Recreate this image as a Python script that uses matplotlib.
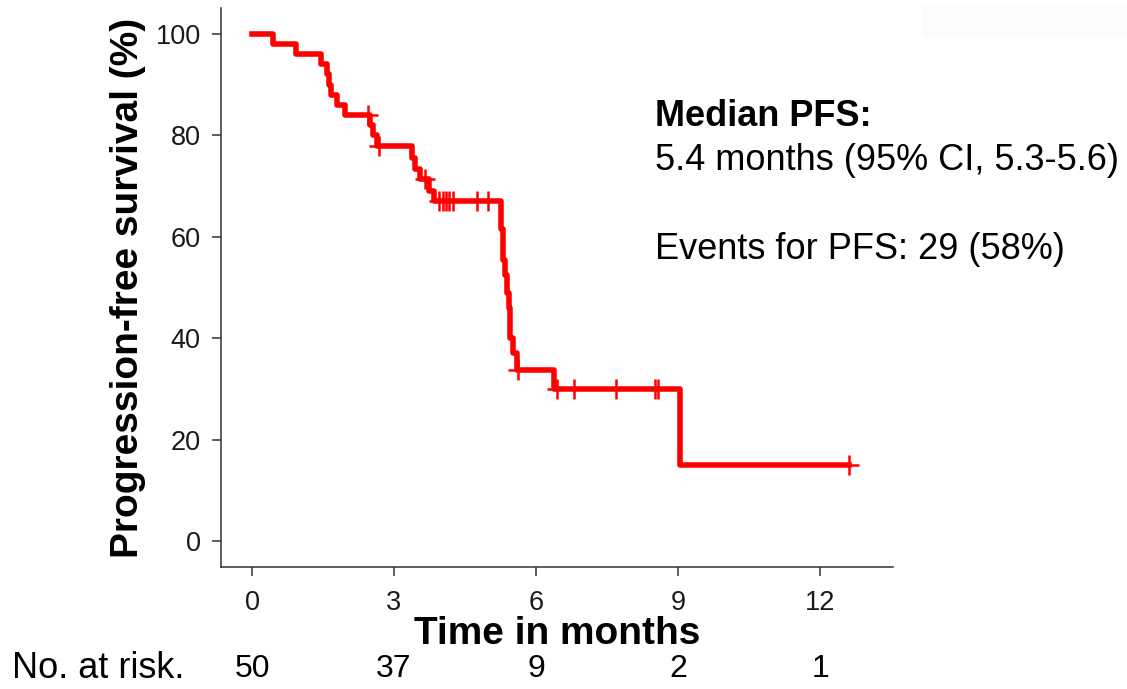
import matplotlib
matplotlib.use('Agg')
import matplotlib.pyplot as plt
import matplotlib.transforms as mtransforms
from matplotlib.patches import Rectangle

plt.rcParams['font.family'] = ['Liberation Sans', 'DejaVu Sans']

# Kaplan-Meier steps (months, % progression-free)
step_times = [0, 0.44, 0.93, 1.45, 1.58, 1.62, 1.66, 1.79, 1.97, 2.49, 2.56, 2.63,
              3.37, 3.44, 3.55, 3.74, 3.84, 5.27, 5.31, 5.35, 5.38, 5.42, 5.45,
              5.52, 5.59, 6.37, 9.04, 12.62]
step_surv = [100, 98, 96, 94, 92, 90, 88, 86, 84, 82, 80, 77.8,
             75.6, 73.4, 71.3, 69.1, 67.0, 61.5, 55.5, 52.5, 49.0, 46.0, 40.0,
             37.0, 33.7, 30.0, 15.0, 15.0]

# censoring marks
cens_times = [2.45, 2.68, 3.65, 3.96, 4.03, 4.10, 4.17, 4.25, 4.75, 4.99,
              5.62, 6.45, 6.80, 7.68, 8.51, 8.58, 12.62]
cens_surv = [84, 77.8, 71.3, 67.0, 67.0, 67.0, 67.0, 67.0, 67.0, 67.0,
             33.7, 30.0, 30.0, 30.0, 30.0, 30.0, 15.0]

risk_times = [0, 3, 6, 9, 12]
risk_counts = [50, 37, 9, 2, 1]

fig = plt.figure(figsize=(11.27, 6.89), dpi=100)
ax = fig.add_axes([221 / 1127, 122 / 689, 672 / 1127, 559 / 689])

ax.step(step_times, step_surv, where='post', color='#ff0000', lw=4)
ax.plot(cens_times, cens_surv, ls='none', marker='+', color='#ff0000',
        markersize=14, markeredgewidth=1.8)

ax.set_xlim(-0.655, 13.54)
ax.set_ylim(-5.1, 105.1)
ax.set_xticks(risk_times)
ax.set_yticks([0, 20, 40, 60, 80, 100])
for side in ['top', 'right']:
    ax.spines[side].set_visible(False)
for side in ['left', 'bottom']:
    ax.spines[side].set_color('#333333')
    ax.spines[side].set_linewidth(1.1)
ax.tick_params(length=6.5, width=1.1, color='#333333', labelsize=19.5,
               labelcolor='#1a1a1a')
ax.tick_params(axis='x', pad=10)
ax.tick_params(axis='y', pad=8)

ax.set_ylabel('Progression-free survival (%)', fontsize=28, fontweight='bold',
              va='center')
ax.yaxis.set_label_coords(-0.138, 0.5)
ax.set_xlabel('Time in months', fontsize=28, fontweight='bold', va='center')
ax.xaxis.set_label_coords(0.5, -0.12)

# annotation
fig.text(655 / 1127, 1 - 117 / 689, 'Median PFS:', fontsize=26,
         fontweight='bold', va='center')
fig.text(655 / 1127, 1 - 160 / 689, '5.4 months (95% CI, 5.3-5.6)',
         fontsize=26, va='center')
fig.text(655 / 1127, 1 - 249 / 689, 'Events for PFS: 29 (58%)',
         fontsize=26, va='center')

# numbers at risk
trans = mtransforms.blended_transform_factory(ax.transData, fig.transFigure)
fig.text(12 / 1127, 1 - 669 / 689, 'No. at risk.', fontsize=26, va='center')
for t, n in zip(risk_times, risk_counts):
    ax.text(t, 1 - 669 / 689, str(n), transform=trans, fontsize=23,
            ha='center', va='center', clip_on=False)

fig.patches.append(Rectangle((923 / 1127, 1 - 37 / 689), 204 / 1127, 32 / 689,
                             transform=fig.transFigure, color='#fbfbfb',
                             zorder=-1))

fig.savefig('out.png', dpi=100)
